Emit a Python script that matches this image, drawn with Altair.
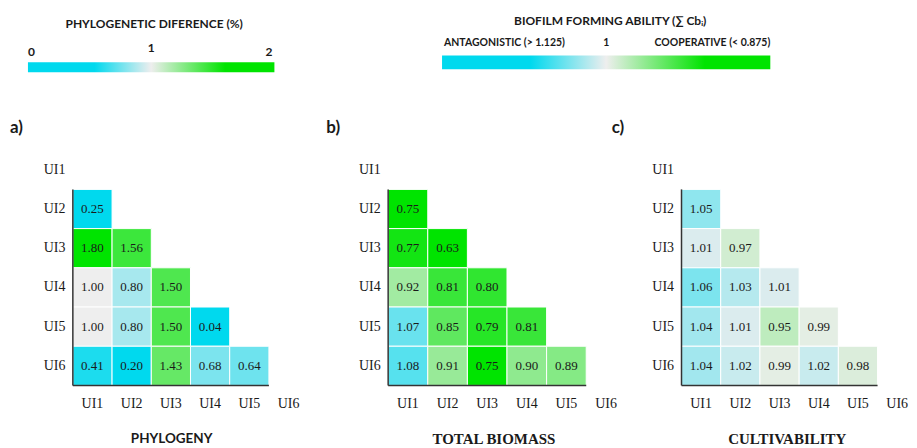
import altair as alt
import pandas as pd

# ---------------- data ----------------
LABELS = ["UI1", "UI2", "UI3", "UI4", "UI5", "UI6"]

# lower-triangle matrices: row k -> LABELS[k+1], columns LABELS[0..k]
PHYLOGENY = [
    [0.25],
    [1.80, 1.56],
    [1.00, 0.80, 1.50],
    [1.00, 0.80, 1.50, 0.04],
    [0.41, 0.20, 1.43, 0.68, 0.64],
]
BIOMASS = [
    [0.75],
    [0.77, 0.63],
    [0.92, 0.81, 0.80],
    [1.07, 0.85, 0.79, 0.81],
    [1.08, 0.91, 0.75, 0.90, 0.89],
]
CULTIVABILITY = [
    [1.05],
    [1.01, 0.97],
    [1.06, 1.03, 1.01],
    [1.04, 1.01, 0.95, 0.99],
    [1.04, 1.02, 0.99, 1.02, 0.98],
]

PANEL_LETTERS = ["a)", "b)", "c)"]
PANEL_TITLES = ["PHYLOGENY", "TOTAL BIOMASS", "CULTIVABILITY"]

PHYLO_LEGEND_TITLE = "PHYLOGENETIC DIFERENCE (%)"
PHYLO_LEGEND_TICKS = ["0", "1", "2"]
PHYLO_LEGEND_VALUES = [0, 1, 2]

BIOFILM_LEGEND_TITLE = "BIOFILM FORMING ABILITY (\u2211 Cb\u1d62)"
BIOFILM_LEGEND_TICKS = ["ANTAGONISTIC (> 1.125)", "1", "COOPERATIVE (< 0.875)"]
BIOFILM_LEGEND_POS = [0, 0.5, 1]

# ---------------- styles ----------------
CYAN = "#00d9ee"
GRAY = "#eeeeee"
GREEN = "#00e400"
SERIF = "Liberation Serif"
SANS = "Lato"
INK = "#1a1a1a"

phylo_scale = alt.Scale(domain=[0, 0.33, 1, 1.75, 2],
                        range=[CYAN, CYAN, GRAY, GREEN, GREEN], interpolate="rgb")
biofilm_scale = alt.Scale(domain=[0.5, 0.75, 1, 1.125, 1.5],
                          range=[GREEN, GREEN, GRAY, CYAN, CYAN], interpolate="rgb")

gradient = alt.LinearGradient(
    gradient="linear", x1=0, x2=1, y1=0, y2=0,
    stops=[alt.GradientStop(offset=0, color=CYAN),
           alt.GradientStop(offset=0.27, color=CYAN),
           alt.GradientStop(offset=0.5, color=GRAY),
           alt.GradientStop(offset=0.8, color=GREEN),
           alt.GradientStop(offset=1, color=GREEN)])

CELL = 39.3
PANEL_H = 6 * CELL
GAP = 56


def tri_df(matrix):
    rows = []
    for i, vals in enumerate(matrix):
        for j, v in enumerate(vals):
            rows.append({"row": LABELS[i + 1], "col": LABELS[j], "value": v})
    return pd.DataFrame(rows)


def panel(matrix, letter, title, title_font, title_size, cscale, cell_w, width,
          title_x, letter_dx):
    df = tri_df(matrix)
    # the six bands keep their own size; the view may be narrower or wider
    xs = alt.Scale(domain=LABELS, paddingInner=0, paddingOuter=0,
                   range=[0, cell_w * len(LABELS)])
    ys = alt.Scale(domain=LABELS, paddingInner=0, paddingOuter=0)
    yaxis = alt.Axis(title=None, domain=False, ticks=False, grid=False,
                     labelFont=SERIF, labelFontSize=14, labelColor=INK, labelPadding=8)
    base = alt.Chart(df)
    cells = base.mark_rect(stroke="white", strokeWidth=1).encode(
        x=alt.X("col:N", scale=xs, axis=None),
        y=alt.Y("row:N", scale=ys, axis=yaxis),
        color=alt.Color("value:Q", scale=cscale, legend=None),
    )
    text = base.mark_text(font=SERIF, fontSize=13, color=INK).encode(
        x="col:N", y="row:N", text=alt.Text("value:Q", format=".2f"))
    vdf = pd.DataFrame([{"c": LABELS[0], "r1": LABELS[1], "r2": LABELS[-1]}])
    vline = alt.Chart(vdf).mark_rule(color="#333333", strokeWidth=1.5).encode(
        x=alt.X("c:N", bandPosition=0),
        y=alt.Y("r1:N", bandPosition=0),
        y2=alt.Y2("r2:N", bandPosition=1),
    )
    hdf = pd.DataFrame([{"r": LABELS[-1], "c1": LABELS[0], "c2": LABELS[-2]}])
    hline = alt.Chart(hdf).mark_rule(color="#333333", strokeWidth=1.5).encode(
        y=alt.Y("r:N", bandPosition=1),
        x=alt.X("c1:N", bandPosition=0),
        x2=alt.X2("c2:N", bandPosition=1),
    )
    # column labels below the triangle, placed by the same band scale
    xlab = alt.Chart(pd.DataFrame({"lab": LABELS})).mark_text(
        font=SERIF, fontSize=14, color=INK, baseline="middle").encode(
        x="lab:N", y=alt.value(PANEL_H + 19), text="lab:N")
    ttl = alt.Chart(pd.DataFrame({"t": [title]})).mark_text(
        font=title_font, fontSize=title_size, fontWeight="bold", color=INK,
        baseline="middle", align="center").encode(
        x=alt.value(title_x), y=alt.value(PANEL_H + 54), text="t:N")
    return alt.layer(cells, text, vline, hline, xlab, ttl).properties(
        width=width, height=PANEL_H,
        title=alt.TitleParams(letter, anchor="start", frame="group", dx=letter_dx,
                              offset=5, baseline="middle", font=SANS, fontSize=17,
                              fontWeight="bold", color=INK),
    )


# plot-area left edges in the reference: 73, 389, 683
pa = panel(PHYLOGENY, PANEL_LETTERS[0], PANEL_TITLES[0], SANS, 13.5, phylo_scale,
           CELL, 389 - 73 - GAP, 99, -63)
pb = panel(BIOMASS, PANEL_LETTERS[1], PANEL_TITLES[1], SERIF, 15, biofilm_scale,
           39.7, 683 - 389 - GAP, 106, -62)
pc = panel(CULTIVABILITY, PANEL_LETTERS[2], PANEL_TITLES[2], SERIF, 15, biofilm_scale,
           CELL, 200, 106, -70)

# ---------------- legends (top strip) ----------------
TOP_W = 700
TOP_H = 142


def lin_domain(v0, v1, p0, p1):
    k = (p1 - p0) / (v1 - v0)
    d0 = v0 - p0 / k
    return [d0, d0 + TOP_W / k]


dom1 = lin_domain(PHYLO_LEGEND_VALUES[0], PHYLO_LEGEND_VALUES[-1], -45, 202)
dom2 = lin_domain(BIOFILM_LEGEND_POS[0], BIOFILM_LEGEND_POS[-1], 370, 699)


def legend(title, ticks, positions, dom, bar_y, tick_y, title_y, tick_size, title_dx, dxs):
    sc = alt.Scale(domain=dom, nice=False, zero=False)
    bar = alt.Chart(pd.DataFrame({"s": [positions[0]], "e": [positions[-1]]})).mark_rect(
        color=gradient).encode(
        x=alt.X("s:Q", scale=sc, axis=None), x2="e:Q",
        y=alt.value(bar_y[0]), y2=alt.value(bar_y[1]))
    layers = [bar]
    for t, p, al, dx, ty in zip(ticks, positions, ["left", "center", "right"], dxs, tick_y):
        layers.append(
            alt.Chart(pd.DataFrame({"t": [t], "p": [p]})).mark_text(
                font=SANS, fontSize=tick_size, fontWeight="bold", color=INK,
                align=al, baseline="middle", dx=dx).encode(
                x=alt.X("p:Q", scale=sc, axis=None), y=alt.value(ty), text="t:N"))
    mid = (positions[0] + positions[-1]) / 2
    layers.append(
        alt.Chart(pd.DataFrame({"t": [title], "p": [mid]})).mark_text(
            font=SANS, fontSize=12, fontWeight="bold", color=INK,
            align="center", baseline="middle", dx=title_dx).encode(
            x=alt.X("p:Q", scale=sc, axis=None), y=alt.value(title_y), text="t:N"))
    return alt.layer(*layers)


leg1 = legend(PHYLO_LEGEND_TITLE, PHYLO_LEGEND_TICKS, PHYLO_LEGEND_VALUES, dom1,
              (54, 64), (44, 40, 44), 16, 12, 3, [0, 0, -2])
leg2 = legend(BIOFILM_LEGEND_TITLE, BIOFILM_LEGEND_TICKS, BIOFILM_LEGEND_POS, dom2,
              (47, 61), (35, 35, 35), 13, 10.5, 4, [2, 0, 0])

top = alt.layer(leg1, leg2).resolve_scale(x="independent").properties(
    width=TOP_W, height=TOP_H)

row = alt.hconcat(pa, pb, pc, spacing=GAP, bounds="flush").resolve_scale(
    x="independent", y="independent", color="independent")

chart = alt.vconcat(top, row, spacing=0, bounds="flush").resolve_scale(
    x="independent", y="independent", color="independent"
).properties(
    padding={"left": 2, "top": 0, "right": 0, "bottom": 0},
    background="white",
).configure_view(stroke=None)

chart.save("out.html", embed_options={"renderer": "svg", "actions": False})
